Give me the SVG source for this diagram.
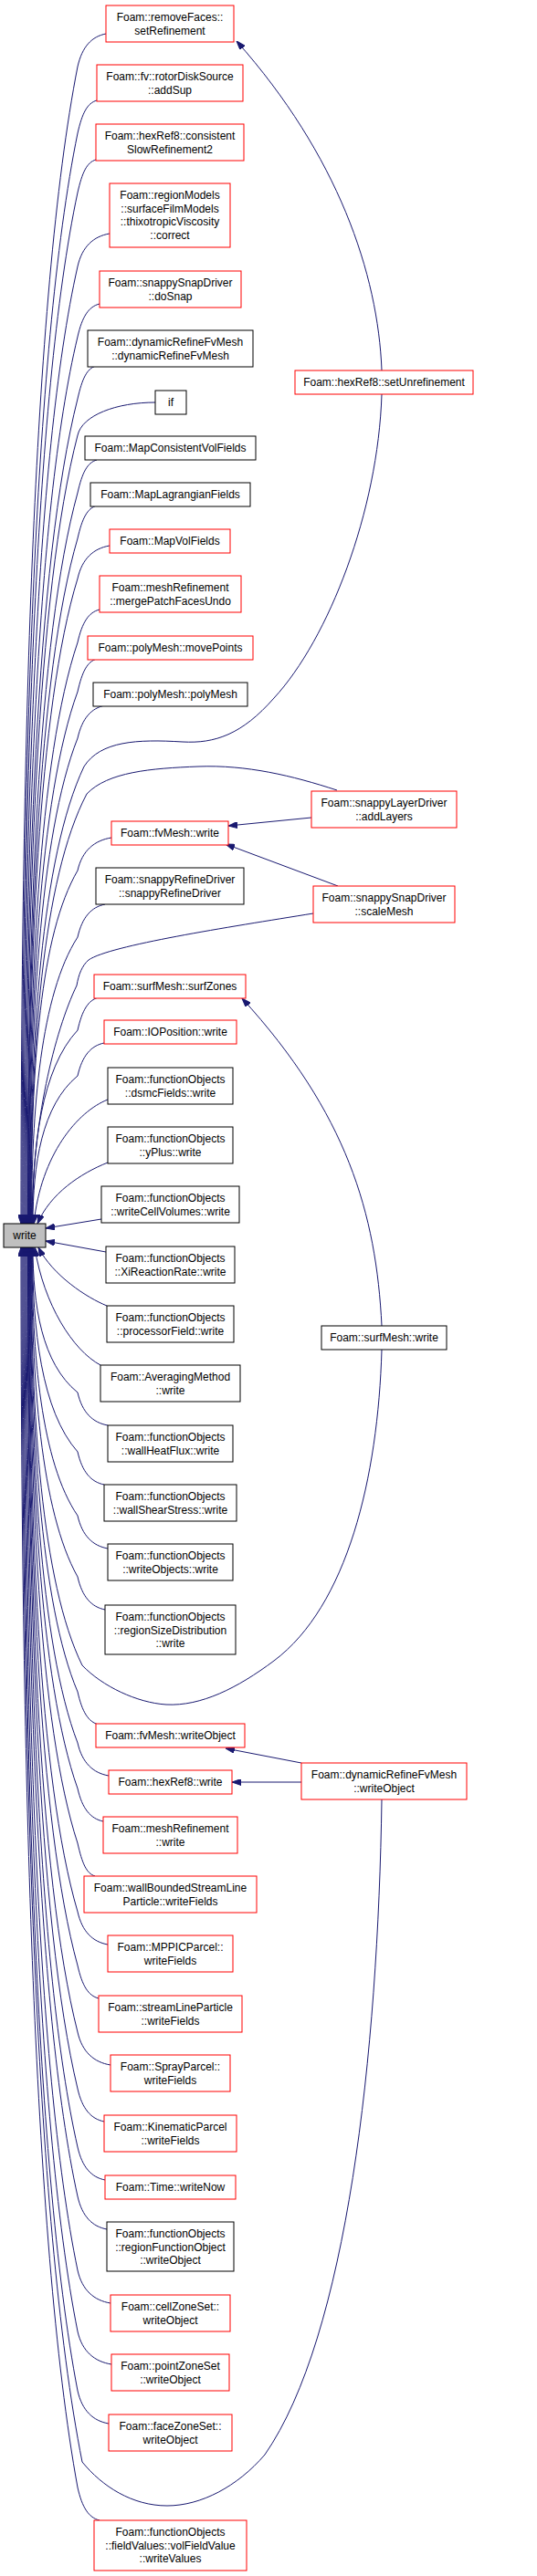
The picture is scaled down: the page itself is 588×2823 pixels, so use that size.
<svg xmlns="http://www.w3.org/2000/svg" width="588" height="2823" viewBox="0 0 588 2823">
<defs>
<marker id="arr" markerWidth="10" markerHeight="7" refX="10" refY="3.5" orient="auto" markerUnits="userSpaceOnUse">
<path d="M0,0 L10,3.5 L0,7 z" fill="#191970" stroke="#191970" stroke-width="1"/>
</marker>
</defs>
<style>
.e{fill:none;stroke:#191970;stroke-width:1;marker-end:url(#arr)}
.r{fill:#ffffff;stroke:#ff0000;stroke-width:1}
.b{fill:#ffffff;stroke:#000000;stroke-width:1}
.g{fill:#bfbfbf;stroke:#000000;stroke-width:1}
text{font-family:"Liberation Sans",Arial,sans-serif;font-size:12px;fill:#000000;text-anchor:middle}
</style>
<rect x="0" y="0" width="588" height="2823" fill="#ffffff"/>
<g id="edges">
<path class="e" d="M116,37 C100.5,40 90,51 85,73 C35.4,326.6 23,833.8 23,1341"/>
<path class="e" d="M106,110 C95.5,113 90,124 85,146 C36.2,385 24,863 24,1341"/>
<path class="e" d="M105,175 C95,178 90,189 85,211 C37,437 25,889 25,1341"/>
<path class="e" d="M120,256 C102.5,259 90,270 85,292 C37.8,501.8 26,921.4 26,1341"/>
<path class="e" d="M109,333 C97,336 90,347 85,369 C38.6,563.4 27,952.2 27,1341"/>
<path class="e" d="M105,401 C95,404 90,415 85,437 C39.4,617.8 28,979.4 28,1341"/>
<path class="e" d="M170,441 C127.5,441 90,455 85,477 C40.2,649.8 29,995.4 29,1341"/>
<path class="e" d="M106,504 C95.5,507 90,518 85,540 C41,700.2 30,1020.6 30,1341"/>
<path class="e" d="M106,554 C95.5,557 90,568 85,590 C41.4,740.2 30.5,1040.6 30.5,1341"/>
<path class="e" d="M120,598 C102.5,601 90,612 85,634 C41.8,775.4 31,1058.2 31,1341"/>
<path class="e" d="M109,668 C97,671 90,682 85,704 C42.2,831.4 31.5,1086.2 31.5,1341"/>
<path class="e" d="M106,722 C95.5,725 90,736 85,758 C42.6,874.6 32,1107.8 32,1341"/>
<path class="e" d="M115,773 C100,776 90,787 85,809 C43,915.4 32.5,1128.2 32.5,1341"/>
<path class="e" d="M418,432 C414,560 360,700 300,765 C265,805 235,815 200,813 C150,810 110,812 92,840 C44.8,940 33,1140.6 33,1341"/>
<path class="e" d="M369,866 C320,850 270,838 217,840 C165,842 118,846 95,870 C45.8,964 33.5,1153 33.5,1341"/>
<path class="e" d="M122,918 C103.5,921 90,932 85,954 C44.2,1024.2 34,1164.6 34,1341"/>
<path class="e" d="M115,991 C100,994 90,1005 85,1027 C44.6,1089.8 34.5,1215.4 34.5,1341"/>
<path class="e" d="M343,1001 C250,1016 120,1036 97,1052 C90,1058 86,1068 84,1080 C60,1130 35,1230 35,1341"/>
<path class="e" d="M108,1093 C96.5,1096 90,1107 85,1129 C45.4,1171.4 35.5,1256.2 35.5,1341"/>
<path class="e" d="M114,1143 C99.5,1146 90,1157 85,1179 C45.8,1211.4 36,1276.2 36,1341"/>
<path class="e" d="M118,1205 C85,1218 45,1265 37,1341"/>
<path class="e" d="M118,1274 C88,1286 55,1308 41,1341"/>
<path class="e" d="M111,1336 L50,1346"/>
<path class="e" d="M116,1372 L50,1360"/>
<path class="e" d="M117,1431 C95,1422 58,1398 42,1367"/>
<path class="e" d="M110,1496 C80,1480 48,1430 38,1367"/>
<path class="e" d="M118,1562 C101.5,1559 90,1548 85,1526 C45.8,1494.2 36,1430.6 36,1367"/>
<path class="e" d="M114,1627 C99.5,1624 90,1613 85,1591 C45.4,1546.2 35.5,1456.6 35.5,1367"/>
<path class="e" d="M118,1697 C101.5,1694 90,1683 85,1661 C45,1602.2 35,1484.6 35,1367"/>
<path class="e" d="M115,1764 C100,1761 90,1750 85,1728 C44.6,1655.8 34.5,1511.4 34.5,1367"/>
<path class="e" d="M418,1479 C414,1620 380,1760 300,1820 C260,1850 220,1870 182,1868 C150,1866 112,1848 90,1825 C45.2,1733.4 34,1550.2 34,1367"/>
<path class="e" d="M108,1890 C96.5,1887 90,1876 85,1854 C43.8,1756.6 33.5,1561.8 33.5,1367"/>
<path class="e" d="M119,1946 C102,1943 90,1932 85,1910 C43.4,1801.4 33,1584.2 33,1367"/>
<path class="e" d="M113,1996 C99,1993 90,1982 85,1960 C43,1841.4 32.5,1604.2 32.5,1367"/>
<path class="e" d="M104,2056 C94.5,2053 90,2042 85,2020 C42.6,1889.4 32,1628.2 32,1367"/>
<path class="e" d="M118,2131 C101.5,2128 90,2117 85,2095 C42.2,1949.4 31.5,1658.2 31.5,1367"/>
<path class="e" d="M108,2190 C96.5,2187 90,2176 85,2154 C41.8,1996.6 31,1681.8 31,1367"/>
<path class="e" d="M121,2263 C103,2260 90,2249 85,2227 C41.4,2055 30.5,1711 30.5,1367"/>
<path class="e" d="M114,2325 C99.5,2322 90,2311 85,2289 C41,2104.6 30,1735.8 30,1367"/>
<path class="e" d="M115,2389 C100,2386 90,2375 85,2353 C40.2,2155.8 29,1761.4 29,1367"/>
<path class="e" d="M117,2443 C101,2440 90,2429 85,2407 C39.4,2199 28,1783 28,1367"/>
<path class="e" d="M121,2524 C103,2521 90,2510 85,2488 C38.6,2263.8 27,1815.4 27,1367"/>
<path class="e" d="M122,2591 C103.5,2588 90,2577 85,2555 C37.8,2317.4 26,1842.2 26,1367"/>
<path class="e" d="M119,2656 C102,2653 90,2642 85,2620 C37,2369.4 25,1868.2 25,1367"/>
<path class="e" d="M418,1972 C414,2250 380,2560 290,2690 C260,2725 220,2746 183,2746 C145,2746 112,2725 90,2698 C37.2,2431.8 24,1899.4 24,1367"/>
<path class="e" d="M109,2762 C97,2759 90,2748 85,2726 C35.4,2454.2 23,1910.6 23,1367"/>
<path class="e" d="M418,406 C414,300 370,170 259,45"/>
<path class="e" d="M341,896 L250,905"/>
<path class="e" d="M370,971 L247,925"/>
<path class="e" d="M418,1453 C412,1330 380,1220 265,1094"/>
<path class="e" d="M330,1932 L247,1916"/>
<path class="e" d="M330,1953 L254,1953"/>
</g>
<g id="n0"><rect class="g" x="4" y="1341" width="46" height="26"/><text x="27" y="1358">write</text></g>
<g id="n1"><rect class="r" x="116" y="6" width="140" height="40"/><text x="186" y="23">Foam::removeFaces::</text><text x="186" y="37.7">setRefinement</text></g>
<g id="n2"><rect class="r" x="106" y="71" width="160" height="40"/><text x="186" y="88">Foam::fv::rotorDiskSource</text><text x="186" y="102.7">::addSup</text></g>
<g id="n3"><rect class="r" x="105" y="136" width="162" height="40"/><text x="186" y="153">Foam::hexRef8::consistent</text><text x="186" y="167.7">SlowRefinement2</text></g>
<g id="n4"><rect class="r" x="120" y="201" width="132" height="70"/><text x="186" y="218">Foam::regionModels</text><text x="186" y="232.7">::surfaceFilmModels</text><text x="186" y="247.4">::thixotropicViscosity</text><text x="186" y="262.1">::correct</text></g>
<g id="n5"><rect class="r" x="109" y="297" width="155" height="40"/><text x="186.5" y="314">Foam::snappySnapDriver</text><text x="186.5" y="328.7">::doSnap</text></g>
<g id="n6"><rect class="b" x="96" y="362" width="181" height="40"/><text x="186.5" y="379">Foam::dynamicRefineFvMesh</text><text x="186.5" y="393.7">::dynamicRefineFvMesh</text></g>
<g id="n7"><rect class="r" x="323" y="406" width="195" height="26"/><text x="420.5" y="423">Foam::hexRef8::setUnrefinement</text></g>
<g id="n8"><rect class="b" x="170" y="428" width="34" height="26"/><text x="187" y="445">if</text></g>
<g id="n9"><rect class="b" x="93" y="478" width="187" height="26"/><text x="186.5" y="495">Foam::MapConsistentVolFields</text></g>
<g id="n10"><rect class="b" x="99" y="529" width="175" height="26"/><text x="186.5" y="546">Foam::MapLagrangianFields</text></g>
<g id="n11"><rect class="r" x="120" y="580" width="132" height="26"/><text x="186" y="597">Foam::MapVolFields</text></g>
<g id="n12"><rect class="r" x="109" y="631" width="155" height="40"/><text x="186.5" y="648">Foam::meshRefinement</text><text x="186.5" y="662.7">::mergePatchFacesUndo</text></g>
<g id="n13"><rect class="r" x="96" y="697" width="181" height="26"/><text x="186.5" y="714">Foam::polyMesh::movePoints</text></g>
<g id="n14"><rect class="b" x="102" y="748" width="169" height="26"/><text x="186.5" y="765">Foam::polyMesh::polyMesh</text></g>
<g id="n15"><rect class="r" x="341" y="867" width="159" height="40"/><text x="420.5" y="884">Foam::snappyLayerDriver</text><text x="420.5" y="898.7">::addLayers</text></g>
<g id="n16"><rect class="r" x="122" y="900" width="128" height="26"/><text x="186" y="917">Foam::fvMesh::write</text></g>
<g id="n17"><rect class="b" x="105" y="951" width="162" height="40"/><text x="186" y="968">Foam::snappyRefineDriver</text><text x="186" y="982.7">::snappyRefineDriver</text></g>
<g id="n18"><rect class="r" x="343" y="971" width="155" height="40"/><text x="420.5" y="988">Foam::snappySnapDriver</text><text x="420.5" y="1002.7">::scaleMesh</text></g>
<g id="n19"><rect class="r" x="103" y="1068" width="166" height="26"/><text x="186" y="1085">Foam::surfMesh::surfZones</text></g>
<g id="n20"><rect class="r" x="114" y="1118" width="145" height="26"/><text x="186.5" y="1135">Foam::IOPosition::write</text></g>
<g id="n21"><rect class="b" x="118" y="1170" width="137" height="40"/><text x="186.5" y="1187">Foam::functionObjects</text><text x="186.5" y="1201.7">::dsmcFields::write</text></g>
<g id="n22"><rect class="b" x="118" y="1235" width="137" height="40"/><text x="186.5" y="1252">Foam::functionObjects</text><text x="186.5" y="1266.7">::yPlus::write</text></g>
<g id="n23"><rect class="b" x="111" y="1300" width="151" height="40"/><text x="186.5" y="1317">Foam::functionObjects</text><text x="186.5" y="1331.7">::writeCellVolumes::write</text></g>
<g id="n24"><rect class="b" x="116" y="1366" width="141" height="40"/><text x="186.5" y="1383">Foam::functionObjects</text><text x="186.5" y="1397.7">::XiReactionRate::write</text></g>
<g id="n25"><rect class="b" x="117" y="1431" width="139" height="40"/><text x="186.5" y="1448">Foam::functionObjects</text><text x="186.5" y="1462.7">::processorField::write</text></g>
<g id="n26"><rect class="b" x="352" y="1453" width="137" height="26"/><text x="420.5" y="1470">Foam::surfMesh::write</text></g>
<g id="n27"><rect class="b" x="110" y="1496" width="153" height="40"/><text x="186.5" y="1513">Foam::AveragingMethod</text><text x="186.5" y="1527.7">::write</text></g>
<g id="n28"><rect class="b" x="118" y="1562" width="137" height="40"/><text x="186.5" y="1579">Foam::functionObjects</text><text x="186.5" y="1593.7">::wallHeatFlux::write</text></g>
<g id="n29"><rect class="b" x="114" y="1627" width="145" height="40"/><text x="186.5" y="1644">Foam::functionObjects</text><text x="186.5" y="1658.7">::wallShearStress::write</text></g>
<g id="n30"><rect class="b" x="118" y="1692" width="137" height="40"/><text x="186.5" y="1709">Foam::functionObjects</text><text x="186.5" y="1723.7">::writeObjects::write</text></g>
<g id="n31"><rect class="b" x="115" y="1759" width="143" height="54"/><text x="186.5" y="1776">Foam::functionObjects</text><text x="186.5" y="1790.7">::regionSizeDistribution</text><text x="186.5" y="1805.4">::write</text></g>
<g id="n32"><rect class="r" x="105" y="1889" width="163" height="26"/><text x="186.5" y="1906">Foam::fvMesh::writeObject</text></g>
<g id="n33"><rect class="r" x="330" y="1932" width="181" height="40"/><text x="420.5" y="1949">Foam::dynamicRefineFvMesh</text><text x="420.5" y="1963.7">::writeObject</text></g>
<g id="n34"><rect class="r" x="119" y="1940" width="135" height="26"/><text x="186.5" y="1957">Foam::hexRef8::write</text></g>
<g id="n35"><rect class="r" x="113" y="1991" width="147" height="40"/><text x="186.5" y="2008">Foam::meshRefinement</text><text x="186.5" y="2022.7">::write</text></g>
<g id="n36"><rect class="r" x="92" y="2056" width="189" height="40"/><text x="186.5" y="2073">Foam::wallBoundedStreamLine</text><text x="186.5" y="2087.7">Particle::writeFields</text></g>
<g id="n37"><rect class="r" x="118" y="2121" width="137" height="40"/><text x="186.5" y="2138">Foam::MPPICParcel::</text><text x="186.5" y="2152.7">writeFields</text></g>
<g id="n38"><rect class="r" x="108" y="2187" width="157" height="40"/><text x="186.5" y="2204">Foam::streamLineParticle</text><text x="186.5" y="2218.7">::writeFields</text></g>
<g id="n39"><rect class="r" x="121" y="2252" width="131" height="40"/><text x="186.5" y="2269">Foam::SprayParcel::</text><text x="186.5" y="2283.7">writeFields</text></g>
<g id="n40"><rect class="r" x="114" y="2318" width="145" height="40"/><text x="186.5" y="2335">Foam::KinematicParcel</text><text x="186.5" y="2349.7">::writeFields</text></g>
<g id="n41"><rect class="r" x="115" y="2384" width="143" height="26"/><text x="186.5" y="2401">Foam::Time::writeNow</text></g>
<g id="n42"><rect class="b" x="117" y="2435" width="139" height="54"/><text x="186.5" y="2452">Foam::functionObjects</text><text x="186.5" y="2466.7">::regionFunctionObject</text><text x="186.5" y="2481.4">::writeObject</text></g>
<g id="n43"><rect class="r" x="121" y="2515" width="131" height="40"/><text x="186.5" y="2532">Foam::cellZoneSet::</text><text x="186.5" y="2546.7">writeObject</text></g>
<g id="n44"><rect class="r" x="122" y="2580" width="129" height="40"/><text x="186.5" y="2597">Foam::pointZoneSet</text><text x="186.5" y="2611.7">::writeObject</text></g>
<g id="n45"><rect class="r" x="119" y="2646" width="135" height="40"/><text x="186.5" y="2663">Foam::faceZoneSet::</text><text x="186.5" y="2677.7">writeObject</text></g>
<g id="n46"><rect class="r" x="103" y="2762" width="167" height="55"/><text x="186.5" y="2779">Foam::functionObjects</text><text x="186.5" y="2793.7">::fieldValues::volFieldValue</text><text x="186.5" y="2808.4">::writeValues</text></g>
</svg>
